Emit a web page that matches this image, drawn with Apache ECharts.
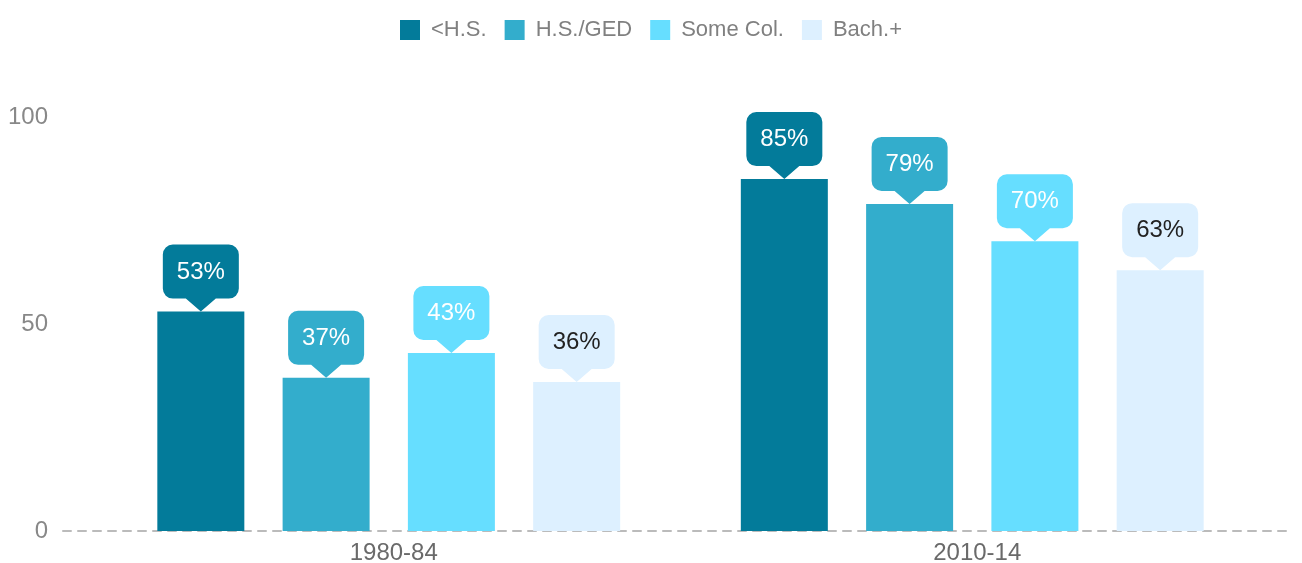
<!DOCTYPE html>
<html><head><meta charset="utf-8">
<script src="https://cdn.jsdelivr.net/npm/echarts@6/dist/echarts.min.js"></script>
<style>html,body{margin:0;padding:0;background:#fff}#c{width:1302px;height:563px}</style>
</head><body><div id="c"></div>
<script>
const categories = ['1980-84', '2010-14'];
const seriesNames = ['<H.S.', 'H.S./GED', 'Some Col.', 'Bach.+'];
const lessHS = [53, 85];
const hsGed = [37, 79];
const someCol = [43, 70];
const bachPlus = [36, 63];
const yTicks = [0, 50, 100];

const values = [lessHS, hsGed, someCol, bachPlus];
const colors = ['#037B9A', '#33ADCC', '#66DEFF', '#DDF0FF'];
const labelColors = ['#fff', '#fff', '#fff', '#222'];
const FONT = 'Arial, "Liberation Sans", sans-serif';
const bubble = 'path://M10,0 H66 A10,10 0 0 1 76,10 V44 A10,10 0 0 1 66,54 H53 L38,67 L23,54 H10 A10,10 0 0 1 0,44 V10 A10,10 0 0 1 10,0 Z';

const chart = echarts.init(document.getElementById('c'), null, {renderer: 'canvas'});
chart.setOption({
  animation: false,
  textStyle: {fontFamily: FONT},
  legend: {
    top: 14, left: 'center', itemWidth: 20, itemHeight: 20, itemGap: 18,
    icon: 'rect',
    textStyle: {fontSize: 22, color: '#808080', fontFamily: FONT, padding: [0, 0, 0, 6]},
    data: seriesNames
  },
  grid: [
    {left: 97, right: 38, top: 117, bottom: 32, outerBoundsMode: 'none', containLabel: false},
    {left: 63, right: 12, top: 117, bottom: 32, outerBoundsMode: 'none', containLabel: false}
  ],
  xAxis: [
    {type: 'category', gridIndex: 0, data: categories,
     axisLine: {show: false}, axisTick: {show: false},
     axisLabel: {fontSize: 24, color: '#6a6a6a', margin: 10, fontFamily: FONT, padding: [0, 0, 0, 10]}},
    {type: 'category', gridIndex: 1, data: categories,
     axisLine: {show: true, lineStyle: {color: '#bbb', type: [8, 7], width: 2}},
     axisTick: {show: false}, axisLabel: {show: false}}
  ],
  yAxis: [
    {type: 'value', gridIndex: 0, min: 0, max: 100, interval: 50, show: false},
    {type: 'value', gridIndex: 1, min: 0, max: 100, interval: 50,
     axisLine: {show: false}, axisTick: {show: false}, splitLine: {show: false},
     axisLabel: {fontSize: 24, color: '#888', margin: 15, fontFamily: FONT,
       formatter: v => yTicks.includes(v) ? String(v) : ''}}
  ],
  series: seriesNames.map((name, s) => ({
    name, type: 'bar', xAxisIndex: 0, yAxisIndex: 0,
    data: values[s], barWidth: 87, barGap: '44%',
    itemStyle: {color: colors[s]},
    markPoint: {
      symbol: bubble, symbolSize: [76, 67], symbolOffset: [0, '-50%'],
      itemStyle: {color: colors[s]},
      label: {show: true, position: 'inside', offset: [0, -6], formatter: p => p.value + '%',
        color: labelColors[s], fontSize: 24, fontFamily: FONT},
      data: values[s].map((v, i) => ({coord: [i, v], value: v}))
    }
  }))
});
</script></body></html>
